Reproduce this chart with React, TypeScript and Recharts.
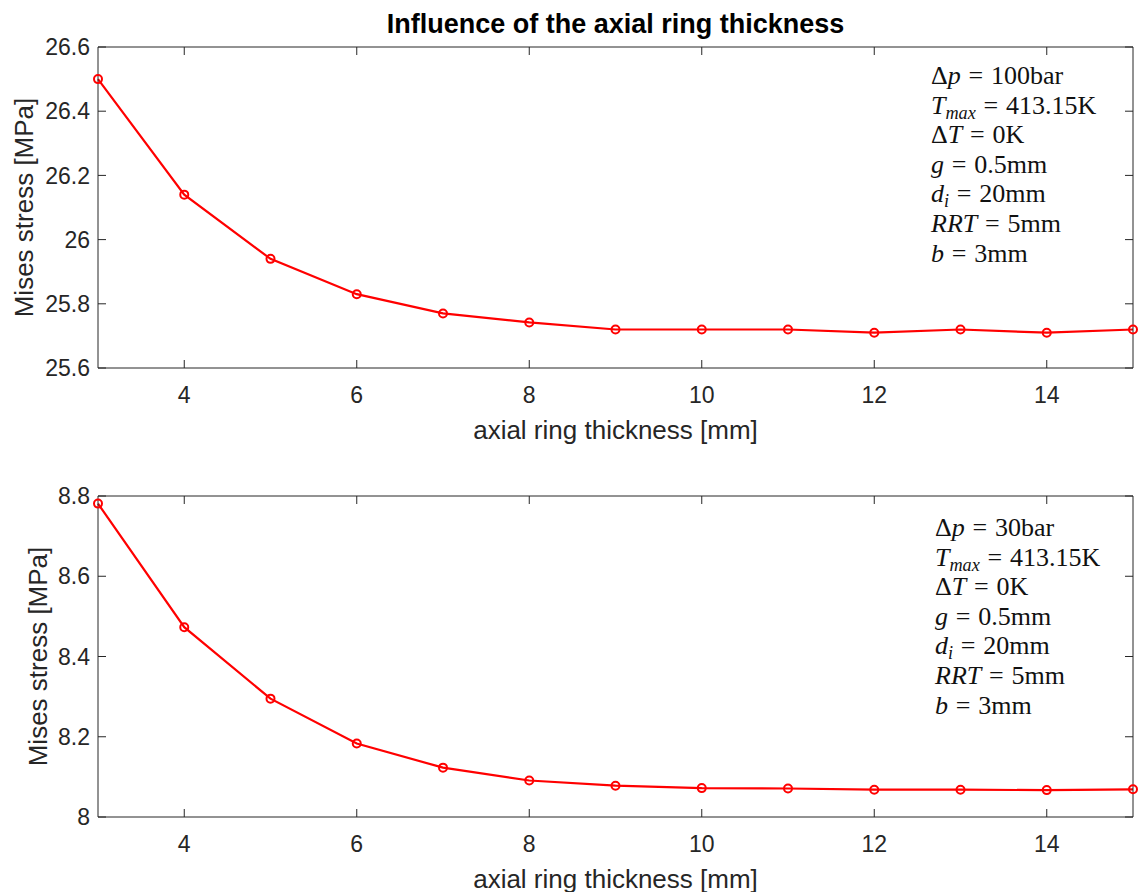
import { LineChart, Line, XAxis, YAxis } from "recharts";

// axial ring thickness [mm]
const thickness = [3, 4, 5, 6, 7, 8, 9, 10, 11, 12, 13, 14, 15];
// Mises stress [MPa], dp = 100 bar
const stress100bar = [26.5, 26.14, 25.94, 25.83, 25.77, 25.742, 25.72, 25.72, 25.72, 25.71, 25.72, 25.71, 25.72];
// Mises stress [MPa], dp = 30 bar
const stress30bar = [8.781, 8.473, 8.295, 8.183, 8.123, 8.091, 8.078, 8.072, 8.071, 8.068, 8.068, 8.067, 8.069];

const xTicks = [4, 6, 8, 10, 12, 14];
const yTicks100 = [25.6, 25.8, 26, 26.2, 26.4, 26.6];
const yTicks30 = [8, 8.2, 8.4, 8.6, 8.8];

const AXIS = "#262626";
const SANS = '"Liberation Sans", Arial, Helvetica, sans-serif';
const SERIF = '"Liberation Serif", "Times New Roman", serif';

const sub: React.CSSProperties = { fontSize: "0.7em", verticalAlign: "-0.25em", lineHeight: 0, fontStyle: "italic" };
const eq = <span style={{ margin: "0 0.3em" }}>=</span>;
const blank = () => "";

function Params({ dp, top, left }: { dp: string; top: number; left: number }) {
  return (
    <div
      style={{
        position: "absolute",
        top,
        left,
        fontFamily: SERIF,
        fontSize: 26,
        lineHeight: "29.6px",
        color: "#111",
        whiteSpace: "nowrap",
      }}
    >
      <div>Δ<i>p</i>{eq}{dp}bar</div>
      <div><i>T</i><span style={sub}>max</span>{eq}413.15K</div>
      <div>Δ<i>T</i>{eq}0K</div>
      <div><i>g</i>{eq}0.5mm</div>
      <div><i>d</i><span style={sub}>i</span>{eq}20mm</div>
      <div><i>RRT</i>{eq}5mm</div>
      <div><i>b</i>{eq}3mm</div>
    </div>
  );
}

// ticks point into the plot (negative tickSize), MATLAB style box
function Panel({
  values,
  yDomain,
  yTicks,
  height,
  marginTop,
  marginBottom,
  yLabelX,
}: {
  values: number[];
  yDomain: [number, number];
  yTicks: number[];
  height: number;
  marginTop: number;
  marginBottom: number;
  yLabelX: number;
}) {
  const data = thickness.map((t, i) => ({ t, s: values[i] }));
  return (
    <LineChart
      width={1138}
      height={height}
      data={data}
      margin={{ top: marginTop - 10, right: 0, bottom: marginBottom, left: 0 }}
    >
      <XAxis
        xAxisId="x"
        dataKey="t"
        type="number"
        domain={[3, 15]}
        ticks={xTicks}
        height={60}
        tickLine={{ stroke: AXIS }}
        tickSize={-8}
        tickMargin={27}
        axisLine={{ stroke: AXIS }}
        tick={{ fill: AXIS, fontSize: 23, fontFamily: SANS }}
        label={(p: any) => (
          <text
            x={p.viewBox.x + p.viewBox.width / 2}
            y={p.viewBox.y + 71}
            textAnchor="middle"
            fill={AXIS}
            fontSize={26}
            fontFamily={SANS}
          >
            axial ring thickness [mm]
          </text>
        )}
      />
      <XAxis
        xAxisId="xtop"
        orientation="top"
        dataKey="t"
        type="number"
        domain={[3, 15]}
        allowDataOverflow
        ticks={xTicks}
        interval={0}
        tickFormatter={blank}
        tick={{ fill: AXIS, fontSize: 1 }}
        axisLine={{ stroke: AXIS }}
        tickLine={{ stroke: AXIS }}
        tickSize={-8}
        height={10}
      />
      <YAxis
        yAxisId="y"
        type="number"
        domain={yDomain}
        ticks={yTicks}
        width={98}
        tickLine={{ stroke: AXIS }}
        tickSize={-8}
        tickMargin={16}
        axisLine={{ stroke: AXIS }}
        tick={{ fill: AXIS, fontSize: 23, fontFamily: SANS }}
        label={(p: any) => {
          const cy = p.viewBox.y + p.viewBox.height / 2;
          return (
            <text
              x={yLabelX}
              y={cy}
              transform={`rotate(-90 ${yLabelX} ${cy})`}
              textAnchor="middle"
              fill={AXIS}
              fontSize={26}
              fontFamily={SANS}
            >
              Mises stress [MPa]
            </text>
          );
        }}
      />
      <YAxis
        yAxisId="yright"
        orientation="right"
        type="number"
        domain={yDomain}
        allowDataOverflow
        ticks={yTicks}
        interval={0}
        tickFormatter={blank}
        tick={{ fill: AXIS, fontSize: 1 }}
        axisLine={{ stroke: AXIS }}
        tickLine={{ stroke: AXIS }}
        tickSize={-8}
        width={5}
      />
      {/* invisible series so the top/right box axes get a scale */}
      <Line
        xAxisId="xtop"
        yAxisId="yright"
        dataKey="s"
        stroke="none"
        dot={false}
        activeDot={false}
        legendType="none"
        isAnimationActive={false}
      />
      <Line
        xAxisId="x"
        yAxisId="y"
        type="linear"
        dataKey="s"
        stroke="#ff0000"
        strokeWidth={2.2}
        dot={{ r: 4, stroke: "#ff0000", strokeWidth: 2, fill: "none" }}
        activeDot={false}
        isAnimationActive={false}
      />
    </LineChart>
  );
}

export default function App() {
  return (
    <div style={{ position: "absolute", left: 0, top: 0, width: 1138, height: 892, background: "#fff" }}>
      <div
        style={{
          position: "absolute",
          top: 11,
          left: 98,
          width: 1035,
          textAlign: "center",
          fontFamily: SANS,
          fontWeight: "bold",
          fontSize: 27,
          lineHeight: "27px",
          color: "#000",
        }}
      >
        Influence of the axial ring thickness
      </div>
      <div style={{ position: "absolute", top: 0, left: 0 }}>
        <Panel
          values={stress100bar}
          yDomain={[25.6, 26.6]}
          yTicks={yTicks100}
          height={450}
          marginTop={47}
          marginBottom={22}
          yLabelX={33}
        />
      </div>
      <div style={{ position: "absolute", top: 450, left: 0 }}>
        <Panel
          values={stress30bar}
          yDomain={[8, 8.8]}
          yTicks={yTicks30}
          height={442}
          marginTop={46}
          marginBottom={15}
          yLabelX={47}
        />
      </div>
      <Params dp="100" top={61} left={931} />
      <Params dp="30" top={513} left={935} />
    </div>
  );
}
